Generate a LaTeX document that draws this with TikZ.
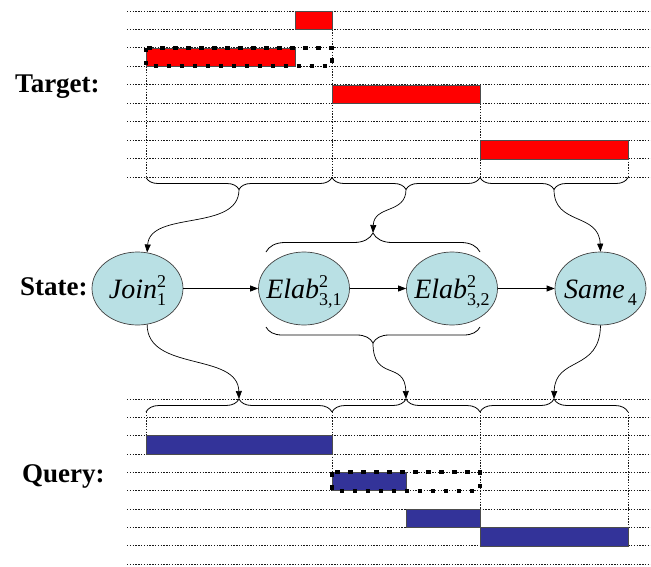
\documentclass[tikz,border=0pt]{standalone}
\usepackage{fontspec}
\setmainfont{Liberation Serif}
\usetikzlibrary{shapes.geometric,decorations.pathreplacing,arrows.meta}
\definecolor{tred}{RGB}{255,0,0}
\definecolor{qblue}{RGB}{51,51,153}
\definecolor{efill}{RGB}{185,224,228}
\newcommand\nlab[3]{\textit{#1}{\fontsize{18}{18}\selectfont\rlap{\raisebox{11pt}{#2}}\raisebox{-7pt}{#3}}}
\begin{document}
\begin{tikzpicture}[x=1pt,y=-1pt,
 dl/.style={black!90, line width=1pt, dash pattern=on 1.4pt off 1.4pt},
 vl/.style={black!90, line width=0.9pt, dash pattern=on 1.4pt off 1.4pt},
 bigdot/.style={black, line width=4pt, dash pattern=on 4.5pt off 8.5pt},
 rbar/.style={fill=tred, draw=black!70, line width=0.6pt},
 bbar/.style={fill=qblue, draw=black!70, line width=0.6pt},
 st/.style={ellipse, draw=black!75, line width=0.7pt, fill=efill, minimum width=91pt, minimum height=73pt, inner xsep=-14pt, inner ysep=0pt, text height=26pt, text depth=6pt, font=\fontsize{28}{28}\selectfont},
 lab/.style={anchor=base west, inner sep=0pt, font=\fontsize{27}{27}\selectfont\bfseries},
 br/.style={decorate, decoration={brace, amplitude=#1}, line width=0.8pt},
 brm/.style={decorate, decoration={brace, amplitude=#1, mirror}, line width=0.8pt},
 arr/.style={-{Triangle[length=8pt,width=6pt]}, line width=0.7pt},
]
\useasboundingbox (0,0) rectangle (651,566);
% dotted grid lines
\foreach \k in {0,...,9} {
  \draw[dl] (127,{11+18.48*\k}) -- (651,{11+18.48*\k});
  \draw[dl] (127,{399+18.35*\k}) -- (651,{399+18.35*\k});
}
% target verticals
\draw[vl] (146,66.44) -- (146,177.32);
\draw[vl] (332,29.48) -- (332,177.32);
\draw[vl] (480,103.4) -- (480,177.32);
\draw[vl] (628,158.84) -- (628,177.32);
% target bars
\draw[rbar] (295,11) rectangle (332,29.48);
\draw[rbar] (146,47.96) rectangle (295,66.44);
\draw[rbar] (332,84.92) rectangle (480,103.4);
\draw[rbar] (480,140.36) rectangle (628,158.84);
\draw[bigdot] (146,47.96) rectangle (332,66.44);
% target braces
\draw[brm=12pt] (146,177.5) -- (332,177.5);
\draw[brm=12pt] (332,177.5) -- (480,177.5);
\draw[brm=12pt] (480,177.5) -- (628,177.5);
\coordinate (t1) at (239,189.5);
\coordinate (t2) at (406,189.5);
\coordinate (t3) at (554,189.5);
% query verticals
\draw[vl] (146,412) -- (146,435.7);
\draw[vl] (332,412) -- (332,472.4);
\draw[vl] (480,412) -- (480,527.45);
\draw[vl] (628,412) -- (628,527.45);
% query bars
\draw[bbar] (146,435.7) rectangle (332,454.05);
\draw[bbar] (332,472.4) rectangle (406,490.75);
\draw[bbar] (406,509.1) rectangle (480,527.45);
\draw[bbar] (480,527.45) rectangle (628,545.8);
\draw[bigdot] (332,472.4) rectangle (480,490.75);
% query braces
\draw[br=13pt] (146,412) -- (332,412);
\draw[br=13pt] (332,412) -- (480,412);
\draw[br=13pt] (480,412) -- (628,412);
\coordinate (q1) at (239,399);
\coordinate (q2) at (406,399);
\coordinate (q3) at (554,399);
% labels
\node[lab] (lt) at (15,92) {Target:};
\node[lab] (ls) at (20,295) {State:};
\node[lab] (lq) at (22,482) {Query:};
% states
\node[st] (J) at (137.5,288.5) {\nlab{Join}{2}{1}};
\node[st] (E1) at (304,288.5) {\nlab{Elab}{2}{3,1}};
\node[st] (E2) at (452,288.5) {\nlab{Elab}{2}{3,2}};
\node[st] (S) at (600.5,288.5) {\textit{Same}{\fontsize{18}{18}\selectfont\raisebox{-7pt}{\,4}}};
\draw[arr] (J) -- (E1);
\draw[arr] (E1) -- (E2);
\draw[arr] (E2) -- (S);
% braces around Elab states
\draw[br=19pt] (266,252) -- (480,252);
\draw[brm=16pt] (266,327) -- (480,327);
\coordinate (ub) at (373,233);
\coordinate (lb) at (373,343);
% curved arrows
\draw[arr] (t1) .. controls (239,232) and (150,210) .. (J.75);
\draw[arr] (t2) .. controls (406,214) and (374,205) .. (ub);
\draw[arr] (t3) .. controls (554,226) and (599,212) .. (S.north);
\draw[arr] (J.-75) .. controls (147,372) and (238,352) .. (q1);
\draw[arr] (lb) .. controls (373,382) and (405,360) .. (q2);
\draw[arr] (S.south) .. controls (600,372) and (555,356) .. (q3);
\end{tikzpicture}
\end{document}
